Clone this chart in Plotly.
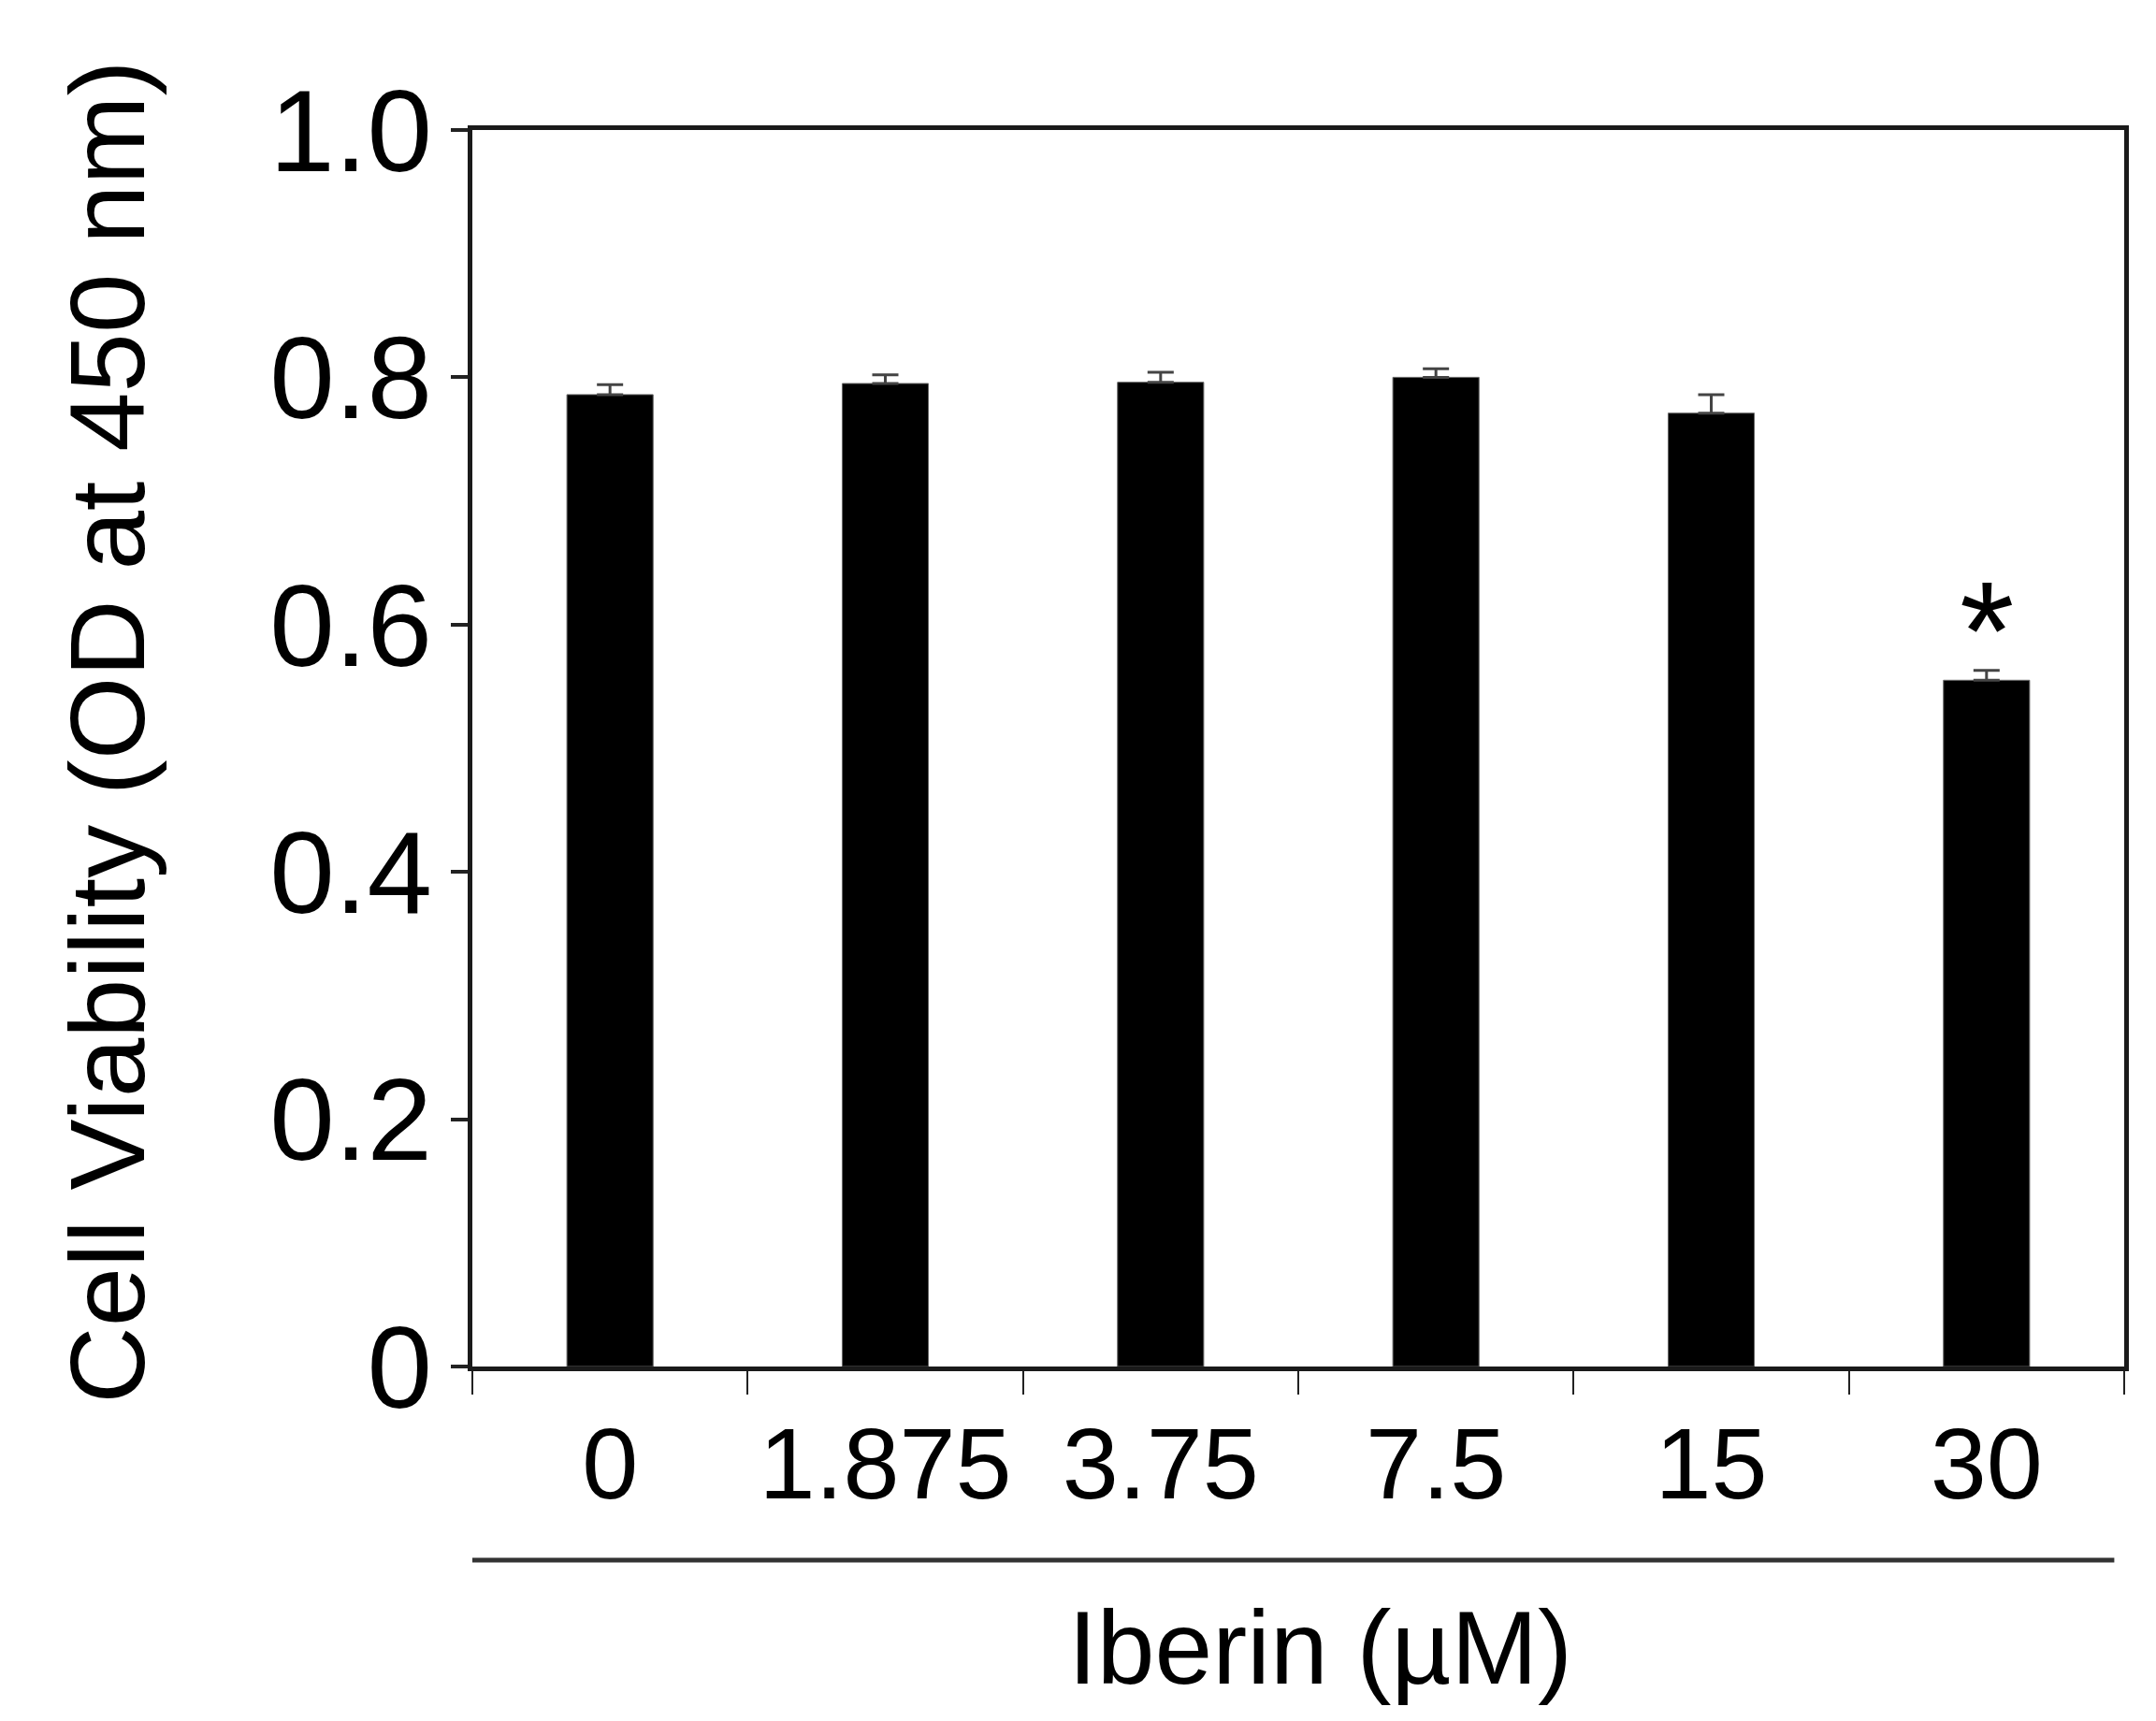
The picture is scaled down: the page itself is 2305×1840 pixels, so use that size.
import plotly.graph_objects as go

# Iberin concentration (uM) and cell viability (OD at 450 nm)
doses = ["0", "1.875", "3.75", "7.5", "15", "30"]
viability = [0.786, 0.795, 0.796, 0.800, 0.771, 0.555]
sem = [0.008, 0.007, 0.008, 0.007, 0.015, 0.008]
signif = ["", "", "", "", "", "*"]

y_ticks = [0, 0.2, 0.4, 0.6, 0.8, 1.0]
y_ticktext = ["0", "0.2", "0.4", "0.6", "0.8", "1.0"]

font = "Arial, Liberation Sans, sans-serif"

fig = go.Figure()
fig.add_trace(go.Bar(
    x=doses, y=viability,
    marker=dict(color="black", line=dict(color="#666", width=1)),
    error_y=dict(type="data", symmetric=False, array=sem,
                 arrayminus=[0] * len(sem),
                 color="#444", thickness=3, width=14),
))

# significance marks above bars (category index as x position)
for i, (v, e, s) in enumerate(zip(viability, sem, signif)):
    if s:
        fig.add_annotation(x=i, y=v + e, text=s, showarrow=False,
                           yanchor="bottom", yshift=-44,
                           font=dict(family=font, size=150, color="black"))

# axis titles
fig.add_annotation(xref="paper", yref="paper", x=-0.221, y=0.5129,
                   text="Cell Viability (OD at 450 nm)", textangle=-90,
                   showarrow=False, xanchor="center", yanchor="middle",
                   font=dict(family=font, size=114, color="black"))
fig.add_annotation(xref="paper", yref="paper", x=0.5135, y=-0.2275,
                   text="Iberin (\u00b5M)", showarrow=False,
                   xanchor="center", yanchor="middle",
                   font=dict(family=font, size=111, color="black"))

# line under dose labels
fig.add_shape(type="line", xref="paper", yref="paper",
              x0=0.0, x1=0.994, y0=-0.1566, y1=-0.1566,
              line=dict(color="#333", width=5))

fig.update_layout(
    width=2289, height=1824,
    margin=dict(l=497, r=26, t=131, b=371),
    plot_bgcolor="white", paper_bgcolor="white",
    showlegend=False,
    bargap=0.687,
    font=dict(family=font, color="black"),
)
fig.update_xaxes(
    type="category", categoryorder="array", categoryarray=doses,
    range=[-0.5, len(doses) - 0.5],
    showline=True, linecolor="#1a1a1a", linewidth=5,
    mirror=True, ticks="outside", tickson="boundaries",
    ticklen=25, tickwidth=2, tickcolor="#222", tickangle=0,
    ticklabelstandoff=6,
    tickfont=dict(family=font, size=108, color="black"),
    showgrid=False, zeroline=False,
)
fig.update_yaxes(
    range=[0, 1.0], tickvals=y_ticks, ticktext=y_ticktext,
    showline=True, linecolor="#1a1a1a", linewidth=5, mirror=True,
    ticks="outside", ticklen=18, tickwidth=4, tickcolor="#222",
    ticklabelstandoff=-5,
    tickfont=dict(family=font, size=125, color="black"),
    showgrid=False, zeroline=False,
)

fig.write_html("out.html")
